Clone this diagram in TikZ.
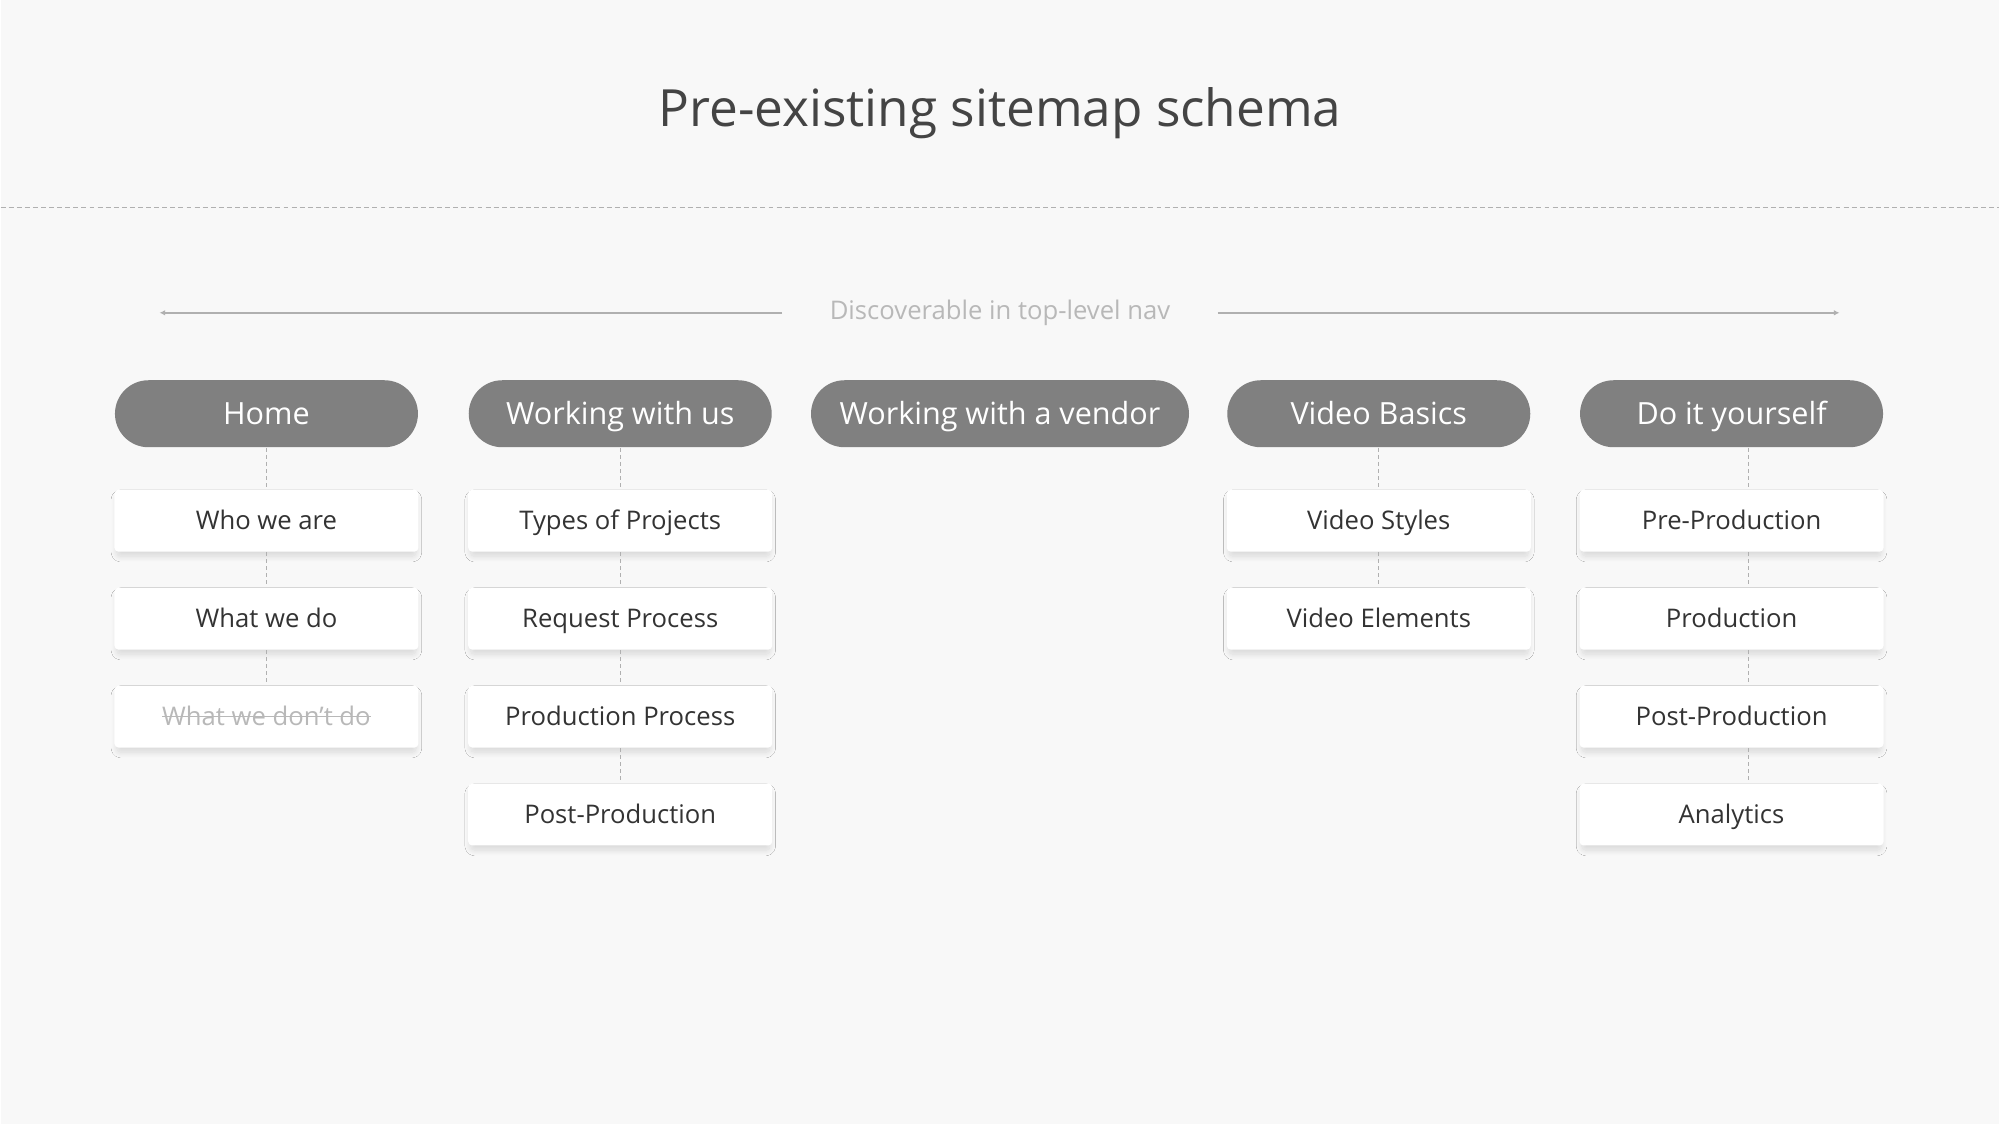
\documentclass[tikz,border=0pt]{standalone}
\usepackage{fontspec}
\setmainfont{Open Sans}
\usetikzlibrary{arrows.meta,shadows.blur}

\definecolor{paper}{HTML}{F8F8F8}
\definecolor{pillgray}{HTML}{808080}
\definecolor{inkdark}{HTML}{333333}
\definecolor{inktitle}{HTML}{444444}
\definecolor{inklight}{HTML}{B8B8B8}
\definecolor{rulegray}{HTML}{B0B0B0}

% texte barre
\newcommand\struck[1]{\sbox0{#1}\rlap{\usebox0}\raisebox{2.4pt}{\rule{\wd0}{0.45pt}}}

\tikzset{
    topnav/.style={fill=pillgray, text=white, rounded corners=0.335cm,
        minimum width=3.03cm, minimum height=0.67cm, inner sep=0pt,
        font=\fontsize{8.7}{9}\selectfont, text height=6.1pt, text depth=0pt},
    page/.style={fill=white, text=inkdark, rounded corners=0.04cm,
        minimum width=3.04cm, minimum height=0.62cm, inner sep=0pt,
        font=\fontsize{7.3}{8}\selectfont, text height=5.2pt, text depth=0pt,
        blur shadow={shadow xshift=0pt, shadow yshift=-1.5pt, shadow scale=0.985,
            shadow blur radius=1.6pt, shadow blur steps=16, shadow opacity=13}},
    dropped/.style={page, text=inklight},
    link/.style={draw=rulegray, line width=0.3pt, dash pattern=on 1.1pt off 0.9pt},
}

\begin{document}
\begin{tikzpicture}[x=0.01cm, y=-0.01cm]
    % fond
    \fill[paper] (0,0) rectangle (2000,1125);

    % titre
    \node[anchor=base, text=inktitle, font=\fontsize{14.6}{17}\selectfont] (title)
        at (1000,127) {Pre-existing sitemap schema};
    \draw[rulegray, line width=0.35pt, dash pattern=on 1.4pt off 0.9pt] (0,208) -- (2000,208);

    % navigation
    \node[text=inklight, font=\fontsize{7.3}{8}\selectfont, inner xsep=0.47cm,
          text height=5.2pt, text depth=1.4pt] (nav) at (1000,313) {Discoverable in top-level nav};
    \coordinate (navL) at (159,313);
    \coordinate (navR) at (1840,313);
    \draw[rulegray, line width=0.4pt, -{Latex[length=1.6pt,width=1.6pt]}] (nav) -- (navL);
    \draw[rulegray, line width=0.4pt, -{Latex[length=1.6pt,width=1.6pt]}] (nav) -- (navR);

    % rubriques
    \node[topnav] (home)   at (266,414)  {Home};
    \node[topnav] (work)   at (620,414)  {Working with us};
    \node[topnav, minimum width=3.78cm] (vendor) at (1000,414) {Working with a vendor};
    \node[topnav] (basics) at (1379,414) {Video Basics};
    \node[topnav] (diy)    at (1732,414) {Do it yourself};

    % pages
    \node[page] (home1) at (266,521) {Who we are};
    \node[page] (home2) at (266,619) {What we do};
    \node[dropped] (home3) at (266,717) {\struck{What we don’t do}};

    \foreach \t [count=\i] in {Types of Projects, Request Process, Production Process, Post-Production}
        \node[page] (work\i) at (620,423+98*\i) {\t};

    \foreach \t [count=\i] in {Video Styles, Video Elements}
        \node[page] (basics\i) at (1379,423+98*\i) {\t};

    \foreach \t [count=\i] in {Pre-Production, Production, Post-Production, Analytics}
        \node[page] (diy\i) at (1732,423+98*\i) {\t};

    % liens
    \foreach \a/\b in {home/home1, home1/home2, home2/home3,
                       work/work1, work1/work2, work2/work3, work3/work4,
                       basics/basics1, basics1/basics2}
        \draw[link] (\a) -- (\b);
    \foreach \a/\b in {diy/diy1, diy1/diy2, diy2/diy3, diy3/diy4}
        \draw[link] ([xshift=0.17cm]\a.south) -- ([xshift=0.17cm]\b.north);
\end{tikzpicture}
\end{document}
